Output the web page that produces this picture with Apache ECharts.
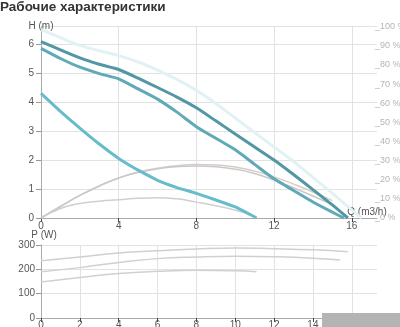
<!DOCTYPE html>
<html><head><meta charset="utf-8">
<script src="https://cdn.jsdelivr.net/npm/echarts@6/dist/echarts.min.js"></script>
<style>html,body{margin:0;padding:0;background:#fff}#c{width:400px;height:327px}</style>
</head><body><div id="c"></div>
<script>
const titleText = 'Рабочие характеристики';
// Head curves H (m) vs Q (m3/h)
const qA = [0,1,2,3,4,5,6,7,8,9,10,11,12,13,14,15,15.8];
const hA = [6.08,5.8,5.52,5.3,5.12,4.82,4.5,4.17,3.8,3.35,2.9,2.45,2.0,1.5,0.98,0.45,0];
const qB = [0,1,2,3,4,5,6,7,8,9,10,11,12,13,14,15,15.6];
const hB = [5.85,5.5,5.2,4.98,4.8,4.45,4.1,3.65,3.15,2.75,2.35,1.85,1.35,0.95,0.55,0.2,0];
const qC = [0,1,2,3,4,5,6,7,8,9,10,11,12,13,14,15,16,16.5];
const hC = [6.5,6.22,5.95,5.77,5.6,5.38,5.1,4.78,4.4,3.95,3.45,2.95,2.45,1.95,1.4,0.85,0.28,0];
const qD = [0,1,2,3,4,4.6,5,6,7,8,9,10,11.1];
const hD = [4.3,3.68,3.1,2.55,2.05,1.8,1.65,1.3,1.05,0.85,0.62,0.38,0];
// Efficiency curves (%)
const qE = [0,1,2,3,4,5,6,7,8,9,10,11,12,13,14,15];
const eE1 = [0,6,11.8,16.7,20.9,24,26,27.3,27.9,27.7,26.6,24.5,21.5,17.7,13.6,9.1];
const eE2 = [0,6,11.8,16.7,20.9,23.8,25.7,26.8,27.2,26.8,25.5,23.2,19.8,15.8,11.5,7];
const qF = [0,1,2,3,4,5,6,7,8,9,10,10.8];
const eF = [0,5,7.6,8.8,9.5,10.3,10.6,10,8.3,6.4,4.1,1.8];
// Power curves P (W)
const qP1 = [0,2,4,6,8,10,12,14,15.8];
const pP1 = [235,251,267,276,284,288,285,280,272];
const qP2 = [0,2,4,6,8,10,12,14,15.4];
const pP2 = [190,207,228,244,251,254,252,246,238];
const qP3 = [0,2,4,6,8,10,11.1];
const pP3 = [148,166,183,192,196,194,190];
// Axis ticks
const xTicksTop = [0,4,8,12,16];
const xTicksBottom = [0,2,4,6,8,10,12,14,16];
const hTicks = [0,1,2,3,4,5,6];
const pctTicks = [0,10,20,30,40,50,60,70,80,90,100];
const pTicks = [0,100,200,300];

const zip = (xs, ys) => xs.map((x, i) => [x, ys[i]]);
const font = 'Liberation Sans, Arial, sans-serif';
const lbl = {color:'#555', fontSize:10, fontFamily:font};
const xMax = 17.3;

const chart = echarts.init(document.getElementById('c'), null, {renderer:'canvas'});
chart.setOption({
  animation:false,
  title:{text:titleText, left:0, top:0, padding:0, textStyle:{fontSize:13.5, fontWeight:'bold', color:'#333', fontFamily:font}},
  grid:[
    {left:41, top:26.6, width:336, height:191.4, containLabel:false, outerBoundsMode:'none'},
    {left:41, top:245, width:336, height:73, containLabel:false, outerBoundsMode:'none'}
  ],
  xAxis:[
    {gridIndex:0, type:'value', min:0, max:xMax, interval:4,
     axisLine:{lineStyle:{color:'#aaa'}}, axisTick:{show:true, length:4, lineStyle:{color:'#444'}},
     axisLabel:Object.assign({margin:3, showMaxLabel:false, formatter:v=>xTicksTop.includes(v)?String(v):''}, lbl),
     splitLine:{showMaxLine:false, lineStyle:{color:'#e2e2e2'}},
     name:'Q (m3/h)', nameLocation:'end', nameGap:-10, nameMoveOverlap:false,
     nameTextStyle:{color:'#555', fontSize:10, fontFamily:font, align:'center', verticalAlign:'bottom', padding:[0,0,1,0]}},
    {gridIndex:1, type:'value', min:0, max:xMax, interval:2,
     axisLine:{lineStyle:{color:'#aaa'}}, axisTick:{show:true, length:4, lineStyle:{color:'#444'}},
     axisLabel:Object.assign({margin:2, showMaxLabel:false, formatter:v=>xTicksBottom.includes(v)?String(v):''}, lbl),
     splitLine:{showMaxLine:false, lineStyle:{color:'#e2e2e2'}}}
  ],
  yAxis:[
    {gridIndex:0, type:'value', min:0, max:6.6, interval:1,
     axisLine:{show:true, lineStyle:{color:'#aaa'}}, axisTick:{show:true, length:5, lineStyle:{color:'#999'}},
     axisLabel:Object.assign({margin:7, showMaxLabel:false, formatter:v=>hTicks.includes(v)?String(v):''}, lbl),
     splitLine:{lineStyle:{color:'#e2e2e2'}},
     name:'H (m)', nameLocation:'end', nameGap:0,
     nameTextStyle:{color:'#555', fontSize:10, fontFamily:font, align:'center', verticalAlign:'middle'}},
    {gridIndex:0, type:'value', min:0, max:100, interval:10, position:'right',
     axisLine:{show:false}, axisTick:{show:false}, splitLine:{show:false},
     axisLabel:{margin:-2, color:'#b5b5b5', fontSize:9, fontFamily:font, showMaxLabel:true,
       formatter:v=>pctTicks.includes(v)?('_'+v+' %'):''}},
    {gridIndex:1, type:'value', min:0, max:300, interval:100,
     axisLine:{show:true, lineStyle:{color:'#aaa'}}, axisTick:{show:true, length:5, lineStyle:{color:'#999'}},
     axisLabel:Object.assign({margin:6, formatter:v=>pTicks.includes(v)?String(v):''}, lbl),
     splitLine:{lineStyle:{color:'#e2e2e2'}},
     name:'P (W)', nameLocation:'end', nameGap:6,
     nameTextStyle:{color:'#555', fontSize:10, fontFamily:font, align:'center', verticalAlign:'middle', padding:[0,0,0,6]}}
  ],
  series:[
    {type:'line', xAxisIndex:0, yAxisIndex:1, data:zip(qE,eE1), symbol:'none', smooth:true, lineStyle:{color:'#d9cbc6', width:1.5}},
    {type:'line', xAxisIndex:0, yAxisIndex:1, data:zip(qE,eE2), symbol:'none', smooth:true, lineStyle:{color:'#c9c9c9', width:1.5}},
    {type:'line', xAxisIndex:0, yAxisIndex:1, data:zip(qF,eF), symbol:'none', smooth:true, lineStyle:{color:'#cfcfcf', width:1.5}},
    {type:'line', xAxisIndex:0, yAxisIndex:0, data:zip(qC,hC), symbol:'none', smooth:0.3, lineStyle:{color:'#e2f1f4', width:3}},
    {type:'line', xAxisIndex:0, yAxisIndex:0, data:zip(qD,hD), symbol:'none', smooth:0.2, lineStyle:{color:'#67bccb', width:3}},
    {type:'line', xAxisIndex:0, yAxisIndex:0, data:zip(qB,hB), symbol:'none', smooth:0.2, lineStyle:{color:'#5eaab6', width:3}},
    {type:'line', xAxisIndex:0, yAxisIndex:0, data:zip(qA,hA), symbol:'none', smooth:0.2, lineStyle:{color:'#5198a4', width:3}},
    {type:'line', xAxisIndex:1, yAxisIndex:2, data:zip(qP1,pP1), symbol:'none', smooth:true, lineStyle:{color:'#d0d0d0', width:1.5}},
    {type:'line', xAxisIndex:1, yAxisIndex:2, data:zip(qP2,pP2), symbol:'none', smooth:true, lineStyle:{color:'#d0d0d0', width:1.5}},
    {type:'line', xAxisIndex:1, yAxisIndex:2, data:zip(qP3,pP3), symbol:'none', smooth:true, lineStyle:{color:'#d0d0d0', width:1.5}}
  ],
  graphic:[
    {type:'rect', right:0, bottom:0, shape:{width:78, height:14}, style:{fill:'#b4b4b4'}, z:100}
  ]
});
</script></body></html>
